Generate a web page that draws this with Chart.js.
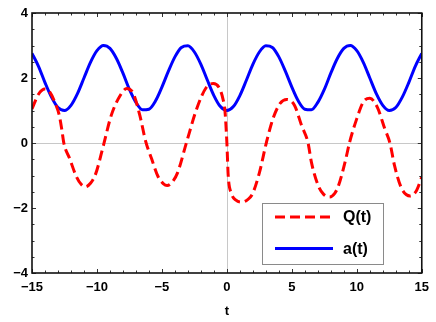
<!DOCTYPE html>
<html>
<head>
<meta charset="utf-8">
<script src="https://cdn.jsdelivr.net/npm/chart.js@4.4.1/dist/chart.umd.min.js"></script>
<style>
  html, body { margin: 0; padding: 0; background: #fff; }
</style>
</head>
<body>
<canvas id="plot" width="436" height="322"></canvas>
<script>
"use strict";

// ticks
const X_TICKS = [-15, -10, -5, 0, 5, 10, 15];
const Y_TICKS = [-4, -2, 0, 2, 4];

// a(t), read every 0.5
const A_T = [-15, -14.5, -14, -13.5, -13, -12.5, -12, -11.5, -11, -10.5, -10, -9.5, -9, -8.5, -8, -7.5,
  -7, -6.5, -6, -5.5, -5, -4.5, -4, -3.5, -3, -2.5, -2, -1.5, -1, -0.5, 0, 0.5, 1, 1.5, 2, 2.5, 3,
  3.5, 4, 4.5, 5, 5.5, 6, 6.5, 7, 7.5, 8, 8.5, 9, 9.5, 10, 10.5, 11, 11.5, 12, 12.5, 13, 13.5, 14, 14.5, 15];
const A_VALUES = [2.76, 2.36, 1.86, 1.41, 1.09, 1.0, 1.16, 1.52, 2.0, 2.48, 2.84, 3.0, 2.91, 2.6, 2.15, 1.65,
  1.25, 1.02, 1.04, 1.29, 1.72, 2.21, 2.65, 2.94, 2.99, 2.8, 2.42, 1.93, 1.46, 1.12, 1.0, 1.12, 1.46, 1.93,
  2.42, 2.8, 2.99, 2.94, 2.65, 2.21, 1.72, 1.29, 1.04, 1.02, 1.25, 1.65, 2.15, 2.6, 2.91, 3.0, 2.84, 2.48,
  2.0, 1.52, 1.16, 1.0, 1.09, 1.41, 1.86, 2.36, 2.76];

// Q(t)
const Q_T = [-15, -14.5, -14, -13.6, -13.2, -12.9, -12.7, -12.55, -12.1, -11.6, -11.2, -10.9, -10.5, -10.1,
  -9.5, -8.9, -8.2, -7.7, -7.2, -6.7, -6.25, -5.8, -5.3, -4.9, -4.6, -4.2, -3.8, -3.1, -2.3, -1.6,
  -1.05, -0.55, -0.3, -0.15, 0, 0.1, 0.35, 0.7, 1.15, 1.6, 1.95, 2.5, 3.05, 3.55, 4.1, 4.6, 5.2, 5.75,
  6.25, 6.5, 7.0, 7.45, 7.9, 8.3, 8.6, 9.1, 9.45, 10.0, 10.5, 11.0, 11.6, 12.15, 12.55, 12.9, 13.45,
  14.1, 14.6, 15];
const Q_VALUES = [1.05, 1.5, 1.66, 1.55, 1.21, 0.85, 0.4, 0.0, -0.48, -1.02, -1.28, -1.35, -1.24, -0.95,
  -0.07, 0.85, 1.47, 1.68, 1.52, 0.85, 0.05, -0.48, -1.03, -1.25, -1.31, -1.2, -0.92, 0.03, 1.08, 1.7,
  1.83, 1.67, 1.35, 1.0, 0.0, -0.99, -1.55, -1.76, -1.82, -1.74, -1.58, -0.92, 0.03, 0.75, 1.22, 1.34,
  1.16, 0.54, 0.0, -0.58, -1.28, -1.58, -1.66, -1.55, -1.3, -0.58, 0.03, 0.75, 1.26, 1.38, 1.08, 0.44,
  0.0, -0.69, -1.4, -1.63, -1.46, -1.05];

const FONT = "'Liberation Sans', Arial, sans-serif";

function toPoints(xs, ys) {
  return xs.map((x, i) => ({ x: x, y: ys[i] }));
}

function minusSign(v) {
  return String(v).replace("-", "\u2212");
}

// zero lines, frame with inward ticks, legend box
const framePlugin = {
  id: "frame",
  beforeDatasetsDraw(chart) {
    const { ctx, chartArea: a, scales } = chart;
    const x0 = scales.x.getPixelForValue(0);
    const y0 = scales.y.getPixelForValue(0);
    ctx.save();
    ctx.strokeStyle = "#c8c8c8";
    ctx.lineWidth = 1;
    ctx.beginPath();
    ctx.moveTo(Math.round(x0) + 0.5, a.top);
    ctx.lineTo(Math.round(x0) + 0.5, a.bottom);
    ctx.moveTo(a.left, Math.round(y0) + 0.5);
    ctx.lineTo(a.right, Math.round(y0) + 0.5);
    ctx.stroke();
    ctx.restore();
  },
  afterDraw(chart) {
    const { ctx, chartArea: a, scales } = chart;
    ctx.save();
    ctx.strokeStyle = "#333";
    ctx.lineWidth = 1;
    ctx.beginPath();
    for (let v = -15; v <= 15; v += 1) {
      const px = Math.round(scales.x.getPixelForValue(v)) + 0.5;
      const len = v % 5 === 0 ? 4 : 2.5;
      ctx.moveTo(px, a.bottom);
      ctx.lineTo(px, a.bottom - len);
      ctx.moveTo(px, a.top);
      ctx.lineTo(px, a.top + len);
    }
    for (let v = -4; v <= 4; v += 0.5) {
      const py = Math.round(scales.y.getPixelForValue(v)) + 0.5;
      const len = v % 2 === 0 ? 4 : 2.5;
      ctx.moveTo(a.left, py);
      ctx.lineTo(a.left + len, py);
      ctx.moveTo(a.right, py);
      ctx.lineTo(a.right - len, py);
    }
    ctx.stroke();

    ctx.strokeStyle = "#111";
    ctx.lineWidth = 1.6;
    ctx.strokeRect(a.left, a.top, a.right - a.left, a.bottom - a.top);

    // legend
    const bx = 262, by = 203, bw = 121, bh = 61;
    ctx.fillStyle = "#fff";
    ctx.fillRect(bx, by, bw, bh);
    ctx.strokeStyle = "#8a8a8a";
    ctx.lineWidth = 1;
    ctx.strokeRect(bx + 0.5, by + 0.5, bw, bh);
    const rows = [217, 248.5];
    chart.data.datasets.forEach((ds, i) => {
      ctx.strokeStyle = ds.borderColor;
      ctx.lineWidth = ds.borderWidth;
      ctx.setLineDash(ds.borderDash || []);
      ctx.beginPath();
      ctx.moveTo(275, rows[i]);
      ctx.lineTo(333, rows[i]);
      ctx.stroke();
      ctx.setLineDash([]);
      ctx.fillStyle = "#000";
      ctx.font = "bold 16px " + FONT;
      ctx.textBaseline = "middle";
      ctx.fillText(ds.label, 343, rows[i] + 1);
    });
    ctx.restore();
  },
};

new Chart(document.getElementById("plot").getContext("2d"), {
  type: "line",
  data: {
    datasets: [
      {
        label: "Q(t)",
        data: toPoints(Q_T, Q_VALUES),
        borderColor: "#ff0000",
        borderWidth: 3,
        borderDash: [10, 5],
        pointRadius: 0,
        cubicInterpolationMode: "monotone",
        fill: false,
      },
      {
        label: "a(t)",
        data: toPoints(A_T, A_VALUES),
        borderColor: "#0000ff",
        borderWidth: 3,
        pointRadius: 0,
        cubicInterpolationMode: "monotone",
        fill: false,
      },
    ],
  },
  options: {
    responsive: false,
    animation: false,
    layout: { padding: { left: 0, right: 14, top: 13, bottom: 0 } },
    plugins: {
      legend: { display: false },
      tooltip: { enabled: false },
    },
    scales: {
      x: {
        type: "linear",
        min: -15,
        max: 15,
        grid: { display: false, drawTicks: false },
        border: { display: false },
        afterBuildTicks: (scale) => {
          scale.ticks = X_TICKS.map((v) => ({ value: v }));
        },
        afterFit: (scale) => {
          scale.height = 49;
        },
        ticks: {
          padding: 7,
          color: "#000",
          maxRotation: 0,
          font: { family: FONT, size: 13, weight: "bold" },
          callback: (v) => minusSign(v),
        },
        title: {
          display: true,
          text: "t",
          color: "#000",
          padding: { top: 0, bottom: 3 },
          font: { family: FONT, size: 13, weight: "bold" },
        },
      },
      y: {
        type: "linear",
        min: -4,
        max: 4,
        grid: { display: false, drawTicks: false },
        border: { display: false },
        afterBuildTicks: (scale) => {
          scale.ticks = Y_TICKS.map((v) => ({ value: v }));
        },
        afterFit: (scale) => {
          scale.width = 32;
        },
        ticks: {
          padding: 4,
          color: "#000",
          font: { family: FONT, size: 13, weight: "bold" },
          callback: (v) => minusSign(v),
        },
      },
    },
  },
  plugins: [framePlugin],
});
</script>
</body>
</html>
